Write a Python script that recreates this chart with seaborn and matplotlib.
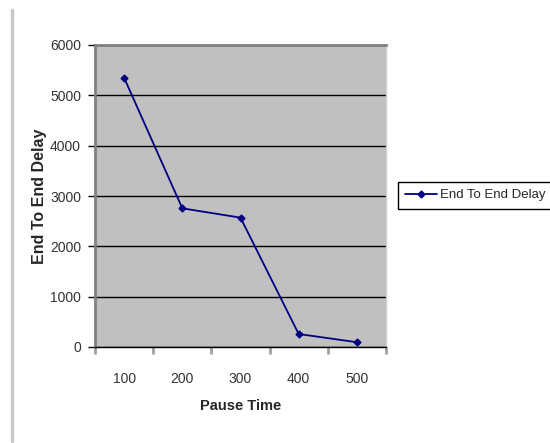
import matplotlib
matplotlib.use("Agg")
import matplotlib.pyplot as plt
import seaborn as sns
import pandas as pd
from matplotlib.ticker import FixedLocator, MultipleLocator

pause_time = ["100", "200", "300", "400", "500"]
delay = [5350, 2755, 2570, 258, 95]
series_name = "End To End Delay"

sns.set_style("white")
plt.rcParams['font.family'] = ['Liberation Sans', 'DejaVu Sans']

df = pd.DataFrame({"Pause Time": pause_time, "End To End Delay": delay})

fig = plt.figure(figsize=(5.5, 4.43), dpi=100)
ax = fig.add_axes([95/550, 1-347/443, 291/550, 302/443])
ax.set_facecolor("#C0C0C0")

sns.pointplot(data=df, x="Pause Time", y="End To End Delay", ax=ax,
              color="#000080", markers="D", markersize=3.5, linewidth=1.3,
              label=series_name)

ax.set_xlim(-0.5, 4.5)
ax.set_ylim(0, 6000)
ax.yaxis.set_major_locator(MultipleLocator(1000))
ax.yaxis.grid(True, color="black", linewidth=1)
ax.xaxis.grid(False)
ax.set_axisbelow(True)

ax.xaxis.set_minor_locator(FixedLocator([i - 0.5 for i in range(len(pause_time) + 1)]))
ax.tick_params(axis="x", which="major", length=0, labelsize=10, pad=18, colors="#333333")
ax.tick_params(axis="x", which="minor", length=5, width=2, color="#A0A0A0", direction="out", bottom=True)
ax.tick_params(axis="y", which="major", length=5, width=1, color="black", direction="out",
               left=True, labelsize=10, pad=5, labelcolor="#333333")

for side in ["left", "top"]:
    ax.spines[side].set_color("#808080")
    ax.spines[side].set_linewidth(2)
ax.spines["right"].set_color("#D0D0D0")
ax.spines["right"].set_linewidth(1)
ax.spines["bottom"].set_color("black")
ax.spines["bottom"].set_linewidth(1)

ax.set_xlabel("Pause Time", fontsize=10.5, fontweight="bold", labelpad=9)
ax.set_ylabel("End To End Delay", fontsize=11.5, fontweight="bold", labelpad=2)

leg = ax.get_legend()
if leg is not None:
    leg.remove()
handles, labels = ax.get_legend_handles_labels()
fig.legend(handles[:1], labels[:1], loc="upper left",
           bbox_to_anchor=(398/550, 1-182/443), borderaxespad=0,
           frameon=True, fancybox=False,
           edgecolor="black", fontsize=9.5, handlelength=2.4, borderpad=0.55,
           handletextpad=0.2, framealpha=1)

fig.add_artist(plt.Line2D([12/550, 12/550], [1-10/443, 1-441/443],
                          color="#C8C8C8", linewidth=2.5, transform=fig.transFigure))

fig.savefig("out.png", dpi=100)
